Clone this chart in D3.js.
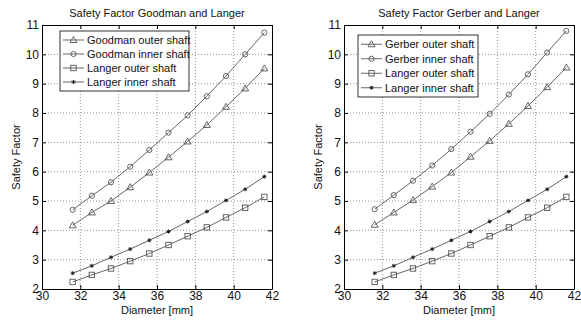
<!DOCTYPE html>
<html>
<head>
<meta charset="utf-8">
<script src="https://cdn.jsdelivr.net/npm/d3@7"></script>
<style>
    body { margin: 0; background: #fff; }
    svg { font-family: "Liberation Sans", Arial, sans-serif; }
    .grid line { stroke: #777; stroke-width: 0.8; stroke-dasharray: 1,2; }
</style>
</head>
<body>
<div id="chart"></div>
<script>

// diameters (mm)
let diameters = [31.6, 32.6, 33.6, 34.6, 35.6, 36.6, 37.6, 38.6, 39.6, 40.6, 41.6];

// safety factors
let goodmanOuter = [4.17, 4.61, 5.00, 5.47, 5.97, 6.49, 7.03, 7.59, 8.21, 8.84, 9.52];
let goodmanInner = [4.70, 5.18, 5.64, 6.17, 6.74, 7.33, 7.92, 8.57, 9.26, 10.00, 10.74];
let gerberOuter = [4.19, 4.61, 5.03, 5.49, 5.97, 6.51, 7.05, 7.63, 8.24, 8.88, 9.55];
let gerberInner = [4.72, 5.20, 5.69, 6.21, 6.77, 7.36, 7.97, 8.63, 9.32, 10.06, 10.80];
let langerOuter = [2.24, 2.48, 2.70, 2.95, 3.21, 3.50, 3.80, 4.10, 4.44, 4.77, 5.14];
let langerInner = [2.54, 2.79, 3.08, 3.36, 3.66, 3.96, 4.30, 4.64, 5.02, 5.40, 5.83];

let xTicks = [30, 32, 34, 36, 38, 40, 42];
let yTicks = [2, 3, 4, 5, 6, 7, 8, 9, 10, 11];

let panels = [
    {
        left: 42, title: "Safety Factor Goodman and Langer",
        legendBox: {x: 60, y: 31, w: 129, h: 60},
        series: [
            {name: "Goodman outer shaft", values: goodmanOuter, marker: "triangle"},
            {name: "Goodman inner shaft", values: goodmanInner, marker: "circle"},
            {name: "Langer outer shaft", values: langerOuter, marker: "square"},
            {name: "Langer inner shaft", values: langerInner, marker: "star"}
        ]
    },
    {
        left: 344, title: "Safety Factor Gerber and Langer",
        legendBox: {x: 358, y: 35, w: 120, h: 62},
        series: [
            {name: "Gerber outer shaft", values: gerberOuter, marker: "triangle"},
            {name: "Gerber inner shaft", values: gerberInner, marker: "circle"},
            {name: "Langer outer shaft", values: langerOuter, marker: "square"},
            {name: "Langer inner shaft", values: langerInner, marker: "star"}
        ]
    }
];

let width = 581, height = 320;
let plotW = 230, plotTop = 25, plotH = 264;
let lineColor = "#555";

let svg = d3.select("#chart").append("svg")
    .attr("width", width)
    .attr("height", height);

function drawMarker(g, type, x, y) {
    if (type === "triangle") {
        g.append("path")
            .attr("d", `M${x},${y - 3.5}L${x + 3.5},${y + 2.5}L${x - 3.5},${y + 2.5}Z`)
            .attr("fill", "none").attr("stroke", lineColor).attr("stroke-width", 0.9);
    } else if (type === "circle") {
        g.append("circle").attr("cx", x).attr("cy", y).attr("r", 2.6)
            .attr("fill", "none").attr("stroke", lineColor).attr("stroke-width", 0.9);
    } else if (type === "square") {
        g.append("rect").attr("x", x - 2.7).attr("y", y - 2.7).attr("width", 5.4).attr("height", 5.4)
            .attr("fill", "none").attr("stroke", lineColor).attr("stroke-width", 0.9);
    } else {
        let s = 2;
        g.append("path")
            .attr("d", `M${x - s},${y}H${x + s}M${x},${y - s}V${y + s}M${x - s * 0.7},${y - s * 0.7}L${x + s * 0.7},${y + s * 0.7}M${x - s * 0.7},${y + s * 0.7}L${x + s * 0.7},${y - s * 0.7}`)
            .attr("stroke", "#222").attr("stroke-width", 1);
    }
}

panels.forEach(p => {
    let x = d3.scaleLinear().domain([30, 42]).range([p.left, p.left + plotW]);
    let y = d3.scaleLinear().domain([2, 11]).range([plotTop + plotH, plotTop]);

    // grid
    let grid = svg.append("g").attr("class", "grid");
    grid.selectAll(".gx").data(xTicks.slice(1, -1)).enter().append("line")
        .attr("x1", d => x(d)).attr("x2", d => x(d))
        .attr("y1", plotTop).attr("y2", plotTop + plotH);
    grid.selectAll(".gy").data(yTicks.slice(1, -1)).enter().append("line")
        .attr("y1", d => y(d)).attr("y2", d => y(d))
        .attr("x1", p.left).attr("x2", p.left + plotW);

    // axes (ticks inward, on all four sides)
    let axes = [
        {axis: d3.axisBottom(x).tickValues(xTicks).tickSizeInner(-4).tickPadding(2), tr: `translate(0,${plotTop + plotH})`, labels: true},
        {axis: d3.axisTop(x).tickValues(xTicks).tickSizeInner(-4), tr: `translate(0,${plotTop})`, labels: false},
        {axis: d3.axisLeft(y).tickValues(yTicks).tickSizeInner(-4).tickPadding(3), tr: `translate(${p.left},0)`, labels: true},
        {axis: d3.axisRight(y).tickValues(yTicks).tickSizeInner(-4), tr: `translate(${p.left + plotW},0)`, labels: false}
    ];
    axes.forEach(a => {
        let g = svg.append("g").attr("transform", a.tr)
            .call(a.axis.tickSizeOuter(0));
        g.select(".domain").attr("stroke", "#000");
        g.selectAll(".tick line").attr("stroke", "#000");
        g.selectAll(".tick text").attr("font-size", 12).attr("fill", "#111")
            .attr("font-family", "Liberation Sans, Arial, sans-serif");
        if (!a.labels) g.selectAll(".tick text").remove();
    });

    // lines and markers
    let line = d3.line().x((d, i) => x(diameters[i])).y(d => y(d));
    p.series.forEach(s => {
        svg.append("path").datum(s.values)
            .attr("d", line)
            .attr("fill", "none")
            .attr("stroke", lineColor)
            .attr("stroke-width", 0.9);
        let mg = svg.append("g");
        s.values.forEach((v, i) => drawMarker(mg, s.marker, x(diameters[i]), y(v)));
    });

    // title and axis labels
    svg.append("text")
        .attr("x", p.left + plotW / 2).attr("y", 17)
        .attr("text-anchor", "middle").attr("font-size", 11).attr("fill", "#111")
        .text(p.title);
    svg.append("text")
        .attr("x", p.left + plotW / 2).attr("y", 314)
        .attr("text-anchor", "middle").attr("font-size", 11).attr("fill", "#111")
        .text("Diameter [mm]");
    svg.append("text")
        .attr("transform", `translate(${p.left - 22},${plotTop + plotH / 2}) rotate(-90)`)
        .attr("text-anchor", "middle").attr("font-size", 11).attr("fill", "#111")
        .text("Safety Factor");

    // legend
    let lb = p.legendBox;
    let legend = svg.append("g");
    legend.append("rect")
        .attr("x", lb.x).attr("y", lb.y).attr("width", lb.w).attr("height", lb.h)
        .attr("fill", "#fff").attr("stroke", "#000").attr("stroke-width", 0.8);
    let rowH = (lb.h - 4) / 4;
    p.series.forEach((s, i) => {
        let cy = lb.y + 2 + rowH * (i + 0.5);
        legend.append("line")
            .attr("x1", lb.x + 3).attr("x2", lb.x + 24)
            .attr("y1", cy).attr("y2", cy)
            .attr("stroke", lineColor).attr("stroke-width", 0.9);
        drawMarker(legend, s.marker, lb.x + 13.5, cy);
        legend.append("text")
            .attr("x", lb.x + 27).attr("y", cy + 4)
            .attr("font-size", 11).attr("fill", "#111")
            .text(s.name);
    });
});

</script>
</body>
</html>
